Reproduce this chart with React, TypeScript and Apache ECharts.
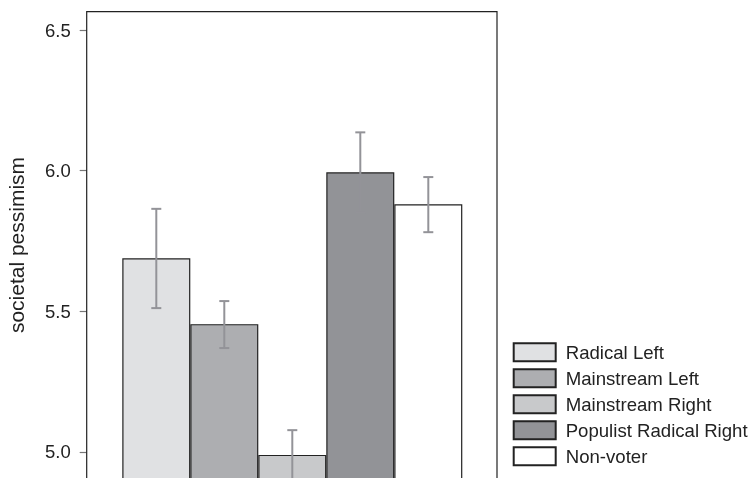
import React, { useEffect, useRef } from "react";
import * as echarts from "echarts";

const categories = ["Radical Left", "Mainstream Left", "Mainstream Right", "Populist Radical Right", "Non-voter"];
const means = [5.688, 5.454, 4.989, 5.994, 5.88];
const lower = [5.511, 5.369, 4.9, 5.852, 5.781];
const upper = [5.864, 5.536, 5.077, 6.136, 5.977];
const colors = ["#e0e1e3", "#adaeb1", "#c8c9cb", "#929397", "#ffffff"];
const yMin = 4.5;
const yMax = 6.5;
const yInterval = 0.5;

const FONT = "'Liberation Sans', Arial, Helvetica, sans-serif";

export default function App() {
  const ref = useRef<HTMLDivElement>(null);
  useEffect(() => {
    if (!ref.current) return;
    const chart = echarts.init(ref.current, undefined, { renderer: "svg" });
    const barSeries = categories.map((name, i) => ({
      name,
      type: "bar",
      barGap: "-100%",
      barCategoryGap: "0%",
      itemStyle: { color: colors[i], borderColor: "#222", borderWidth: 1.2 },
      data: categories.map((_, j) => (j === i ? means[i] : "-")),
      z: 2,
    }));
    const errData = categories.map((_, i) => [i, lower[i], upper[i]]);
    chart.setOption({
      animation: false,
      textStyle: { fontFamily: FONT },
      grid: { left: 122.3, top: 30, width: 340, height: 562.4 },
      xAxis: { type: "category", data: categories, show: false },
      yAxis: {
        type: "value",
        min: yMin,
        max: yMax,
        interval: yInterval,
        offset: 35.6,
        axisLine: { show: false },
        axisTick: { show: true, length: 7, lineStyle: { color: "#777", width: 1.2 } },
        axisLabel: {
          margin: 16,
          fontSize: 18.5,
          color: "#222",
          fontFamily: FONT,
          showMinLabel: false,
          formatter: (v: number) => v.toFixed(1),
        },
        splitLine: { show: false },
      },
      legend: {
        orient: "vertical",
        left: 512.7,
        top: 342.3,
        padding: 0,
        itemWidth: 42,
        itemHeight: 18,
        itemGap: 6,
        icon: "rect",
        textStyle: { fontSize: 18.6, color: "#222", fontFamily: FONT, padding: [0, 0, 0, 5] },
        data: categories,
      },
      graphic: [
        {
          type: "rect",
          shape: { x: 86.7, y: 11.7, width: 410.3, height: 700 },
          style: { fill: "none", stroke: "#222", lineWidth: 1.2 },
          z: 10,
        },
        {
          type: "text",
          x: 16,
          y: 245,
          rotation: Math.PI / 2,
          style: {
            text: "societal pessimism",
            font: `21px ${FONT}`,
            fill: "#222",
            textAlign: "center",
            textVerticalAlign: "middle",
          },
        },
      ],
      series: [
        ...barSeries,
        {
          type: "custom",
          name: "err",
          z: 5,
          encode: { x: 0, y: [1, 2] },
          data: errData,
          renderItem: (params: any, api: any) => {
            const idx = api.value(0);
            const lo = api.coord([idx, api.value(1)]);
            const hi = api.coord([idx, api.value(2)]);
            const hw = 5;
            const style = { stroke: "#939398", lineWidth: 2 };
            return {
              type: "group",
              children: [
                { type: "line", shape: { x1: lo[0], y1: lo[1], x2: hi[0], y2: hi[1] }, style },
                { type: "line", shape: { x1: lo[0] - hw, y1: lo[1], x2: lo[0] + hw, y2: lo[1] }, style },
                { type: "line", shape: { x1: hi[0] - hw, y1: hi[1], x2: hi[0] + hw, y2: hi[1] }, style },
              ],
            };
          },
        },
      ],
    });
    return () => chart.dispose();
  }, []);
  return <div ref={ref} style={{ position: "fixed", left: 0, top: 0, width: 750, height: 600 }} />;
}
